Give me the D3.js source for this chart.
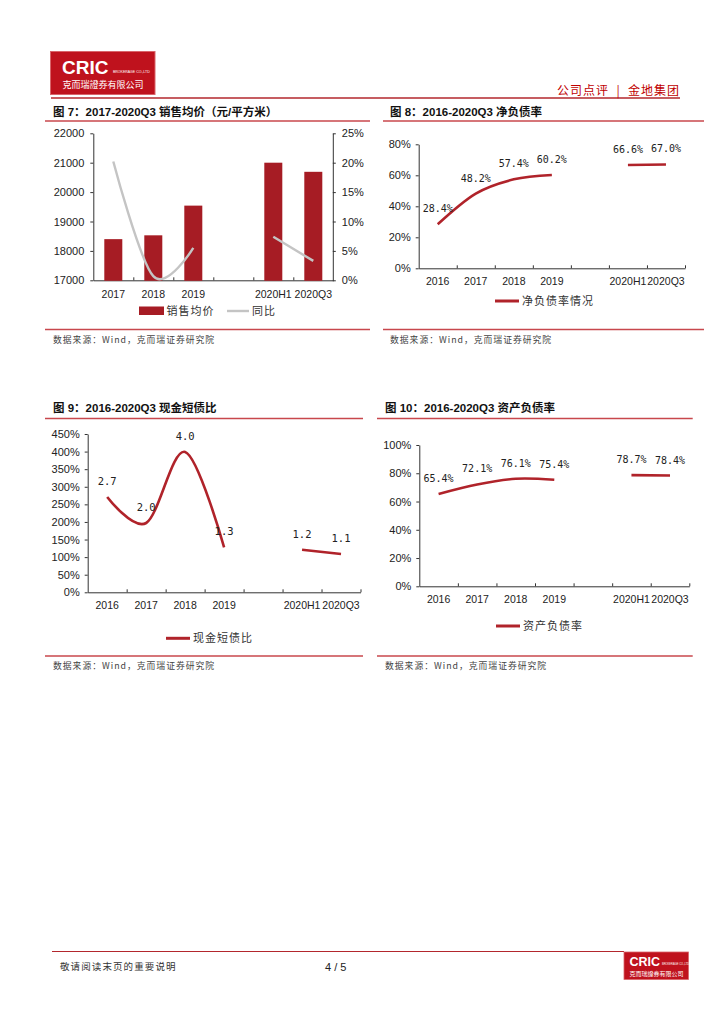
<!DOCTYPE html>
<html><head><meta charset="utf-8">
<script src="https://cdn.jsdelivr.net/npm/d3@7"></script>
<style>body{margin:0;background:#fff}svg{display:block}</style>
</head><body>
<svg id="c" width="724" height="1024"></svg>
<script>
// ---------- data ----------
const cats7 = ["2017","2018","2019","","2020H1","2020Q3"];
const price7 = [18400,18530,19540,null,21000,20690];
const yoy7 = [20.2,0.7,5.5,null,7.4,3.3];
const leftTicks7 = [17000,18000,19000,20000,21000,22000];
const rightTicks7 = [0,5,10,15,20,25];

const catsLine = ["2016","2017","2018","2019","","2020H1","2020Q3"];
const netDebt8 = [28.4,48.2,57.4,60.2,null,66.6,67.0];
const ticks8 = [0,20,40,60,80];
const cashRatio9 = [2.71,1.97,3.99,1.28,null,1.21,1.09];
const ticks9 = [0,50,100,150,200,250,300,350,400,450];
const assetLiab10 = [65.4,72.1,76.1,75.4,null,78.7,78.4];
const ticks10 = [0,20,40,60,80,100];

const titles = ["图 7：2017-2020Q3 销售均价（元/平方米）","图 8：2016-2020Q3 净负债率","图 9：2016-2020Q3 现金短债比","图 10：2016-2020Q3 资产负债率"];
const sourceText = "数据来源：Wind，克而瑞证券研究院";

// ---------- styles ----------
const RED = "#b0232a", BAR = "#a61c24", GRAY = "#c4c4c4", RULE = "#c8474d";
const SANS = "'Liberation Sans','Noto Sans CJK SC',sans-serif";
const CJK = "'Noto Sans CJK SC','Liberation Sans',sans-serif";
const MONO = "'DejaVu Sans Mono','Liberation Mono',monospace";

const svg = d3.select("#c");
svg.append("rect").attr("width",724).attr("height",1024).attr("fill","#fff");

// ---------- header ----------
svg.append("rect").attr("x",50.5).attr("y",51.5).attr("width",104.5).attr("height",43)
  .attr("fill","#bf121d").attr("stroke","#d9656a").attr("stroke-width",1);
svg.append("text").attr("x",62).attr("y",74).text("CRIC")
  .attr("font-family",SANS).attr("font-weight","bold").attr("font-size",19).attr("fill","#fff");
svg.append("text").attr("x",113).attr("y",73).text("BROKERAGE CO.,LTD")
  .attr("font-family",SANS).attr("font-size",3.5).attr("fill","#fff");
svg.append("text").attr("x",62.5).attr("y",88).text("克而瑞證券有限公司")
  .attr("font-family",CJK).attr("font-size",9).attr("fill","#fff");
svg.append("line").attr("x1",51).attr("x2",680).attr("y1",98).attr("y2",98)
  .attr("stroke","#b3272d").attr("stroke-width",1.4);
svg.append("text").attr("x",680).attr("y",95).attr("text-anchor","end")
  .attr("xml:space","preserve").style("white-space","pre").text("公司点评  |  金地集团")
  .attr("font-family",CJK).attr("font-size",12).attr("letter-spacing",1).attr("fill","#c00000");

// ---------- footer ----------
svg.append("line").attr("x1",52).attr("x2",624).attr("y1",951.5).attr("y2",951.5)
  .attr("stroke","#b3272d").attr("stroke-width",1.2);
svg.append("rect").attr("x",624).attr("y",952).attr("width",64.5).attr("height",27.5)
  .attr("fill","#bf121d").attr("stroke","#d9656a").attr("stroke-width",0.8);
svg.append("text").attr("x",629.5).attr("y",965.5).text("CRIC")
  .attr("font-family",SANS).attr("font-weight","bold").attr("font-size",12.5).attr("fill","#fff");
svg.append("text").attr("x",662).attr("y",965).text("BROKERAGE CO.,LTD")
  .attr("font-family",SANS).attr("font-size",2.6).attr("fill","#fff");
svg.append("text").attr("x",629.5).attr("y",975.5).text("克而瑞證券有限公司")
  .attr("font-family",CJK).attr("font-size",6).attr("fill","#fff");
svg.append("text").attr("x",60).attr("y",970).text("敬请阅读末页的重要说明")
  .attr("font-family",CJK).attr("font-size",9.5).attr("letter-spacing",1.1).attr("fill","#333");
svg.append("text").attr("x",325).attr("y",971).text("4 / 5")
  .attr("font-family",SANS).attr("font-size",11).attr("fill","#222");

// ---------- frame helpers ----------
function frame(o){
  svg.append("text").attr("x",o.tx).attr("y",o.ty).text(o.title)
    .attr("font-family",SANS).attr("font-weight","bold").attr("font-size",11.5).attr("fill","#111");
  svg.append("line").attr("x1",o.rx0).attr("x2",o.rx1).attr("y1",o.ry0).attr("y2",o.ry0)
    .attr("stroke",RULE).attr("stroke-width",1.3);
  svg.append("line").attr("x1",o.rx0).attr("x2",o.rx1).attr("y1",o.ry1).attr("y2",o.ry1)
    .attr("stroke",RULE).attr("stroke-width",1.3);
  svg.append("text").attr("x",o.tx).attr("y",o.ry1+13).text(sourceText)
    .attr("font-family",CJK).attr("font-size",8.8).attr("letter-spacing",1).attr("fill","#444");
}
function styleAxis(sel){
  sel.selectAll("path,line").attr("stroke","#333").attr("stroke-width",1);
  sel.selectAll("text").attr("font-family",SANS).attr("font-size",11).attr("fill","#222");
  sel.attr("font-family",null).attr("font-size",null);
}

// ---------- line chart ----------
function lineChart(o){
  const n = o.cats.length;
  const x = d3.scalePoint().domain(d3.range(n)).range([o.x0,o.x1]).padding(0.5);
  const xb = d3.scaleLinear().domain([0,n]).range([o.x0,o.x1]);
  const y = d3.scaleLinear().domain([0,o.yMax]).range([o.yb,o.yt]);
  const g = svg.append("g");
  g.append("g").attr("transform",`translate(${o.x0},0)`)
    .call(d3.axisLeft(y).tickValues(o.ticks).tickFormat(d=>d+"%").tickSizeInner(3).tickSizeOuter(0).tickPadding(5))
    .call(styleAxis);
  g.append("g").attr("transform",`translate(0,${o.yb})`)
    .call(d3.axisBottom(xb).tickValues(d3.range(1,n+1)).tickFormat("").tickSizeInner(-3).tickSizeOuter(0))
    .call(styleAxis);
  g.selectAll("text.xl").data(o.cats).join("text").attr("class","xl")
    .attr("x",(d,i)=>x(i)).attr("y",o.yb+17).attr("text-anchor","middle").text(d=>d)
    .attr("font-family",SANS).attr("font-size",10.5).attr("fill","#222");
  const line = d3.line().defined(d=>d!=null).x((d,i)=>x(i)).y(d=>y(d*o.k)).curve(d3.curveCatmullRom.alpha(0));
  g.append("path").attr("d",line(o.values)).attr("fill","none").attr("stroke",RED)
    .attr("stroke-width",2.6).attr("stroke-linecap","butt");
  g.selectAll("text.vl").data(o.values.map((v,i)=>({v,i})).filter(d=>d.v!=null)).join("text").attr("class","vl")
    .attr("x",d=>x(d.i)).attr("y",d=>y(d.v*o.k)-12).attr("text-anchor","middle").text(d=>o.labelFmt(d.v))
    .attr("font-family",MONO).attr("font-size",o.lfs).attr("fill","#222");
  g.append("line").attr("x1",o.lx).attr("x2",o.lx+24).attr("y1",o.ly).attr("y2",o.ly)
    .attr("stroke",RED).attr("stroke-width",3);
  g.append("text").attr("x",o.lx+27).attr("y",o.ly+4).text(o.legend)
    .attr("font-family",CJK).attr("font-size",11).attr("letter-spacing",1).attr("fill","#333");
}

// ---------- chart 7 ----------
frame({title:titles[0],tx:53,ty:115.5,rx0:45,rx1:370,ry0:121,ry1:329.5});
(function(){
  const x0=93.3,x1=333.3,yt=133.3,yb=280.3;
  const n=cats7.length;
  const xb=d3.scaleBand().domain(d3.range(n)).range([x0,x1]).paddingInner(0.55).paddingOuter(0.275);
  const xc=d3.scalePoint().domain(d3.range(n)).range([x0,x1]).padding(0.5);
  const xl=d3.scaleLinear().domain([0,n]).range([x0,x1]);
  const yL=d3.scaleLinear().domain([17000,22000]).range([yb,yt]);
  const yR=d3.scaleLinear().domain([0,25]).range([yb,yt]);
  const g=svg.append("g");
  g.append("g").attr("transform",`translate(0,${yb})`)
    .call(d3.axisBottom(xl).tickValues(d3.range(1,n)).tickFormat("").tickSizeInner(-3).tickSizeOuter(0))
    .call(styleAxis);
  g.append("g").attr("transform",`translate(${x0},0)`)
    .call(d3.axisLeft(yL).tickValues(leftTicks7).tickFormat(d3.format("d")).tickSizeInner(3).tickSizeOuter(0).tickPadding(6))
    .call(styleAxis);
  g.append("g").attr("transform",`translate(${x1-0.5},0)`)
    .call(d3.axisRight(yR).tickValues(rightTicks7).tickFormat(d=>d+"%").tickSizeInner(3).tickSizeOuter(0).tickPadding(6))
    .call(styleAxis);
  g.selectAll("rect.bar").data(price7.map((v,i)=>({v,i})).filter(d=>d.v!=null)).join("rect").attr("class","bar")
    .attr("x",d=>xb(d.i)).attr("width",xb.bandwidth()).attr("y",d=>yL(d.v)).attr("height",d=>yb-yL(d.v)+0.5)
    .attr("fill",BAR);
  const line=d3.line().defined(d=>d!=null).x((d,i)=>xc(i)).y(d=>yR(d)).curve(d3.curveCatmullRom.alpha(0));
  g.append("path").attr("d",line(yoy7)).attr("fill","none").attr("stroke",GRAY).attr("stroke-width",2.4);
  g.selectAll("text.xl").data(cats7).join("text").attr("class","xl")
    .attr("x",(d,i)=>xc(i)).attr("y",297.5).attr("text-anchor","middle").text(d=>d)
    .attr("font-family",SANS).attr("font-size",10.5).attr("fill","#222");
  // legend
  g.append("rect").attr("x",139).attr("y",306.5).attr("width",25).attr("height",8.5).attr("fill",BAR);
  g.append("text").attr("x",166.5).attr("y",315).text("销售均价")
    .attr("font-family",CJK).attr("font-size",11).attr("letter-spacing",1).attr("fill","#333");
  g.append("line").attr("x1",227).attr("x2",249).attr("y1",311).attr("y2",311).attr("stroke",GRAY).attr("stroke-width",2.4);
  g.append("text").attr("x",252).attr("y",315).text("同比")
    .attr("font-family",CJK).attr("font-size",11).attr("letter-spacing",1).attr("fill","#333");
})();

// ---------- chart 8 ----------
frame({title:titles[1],tx:390,ty:115.5,rx0:383,rx1:704,ry0:121,ry1:329.5});
lineChart({cats:catsLine,values:netDebt8,k:1,x0:418.7,x1:685,yt:144.3,yb:268.3,yMax:80,ticks:ticks8,
  labelFmt:v=>v.toFixed(1)+"%",lfs:10,lx:495,ly:301,legend:"净负债率情况"});

// ---------- chart 9 ----------
frame({title:titles[2],tx:53,ty:412,rx0:45,rx1:363,ry0:418.5,ry1:656});
lineChart({cats:catsLine,values:cashRatio9,k:100,x0:87.7,x1:360.5,yt:434,yb:592.3,yMax:450,ticks:ticks9,
  labelFmt:v=>v.toFixed(1),lfs:10.5,lx:166,ly:638.3,legend:"现金短债比"});

// ---------- chart 10 ----------
frame({title:titles[3],tx:385,ty:412,rx0:377,rx1:692.7,ry0:418.5,ry1:656});
lineChart({cats:catsLine,values:assetLiab10,k:1,x0:419.3,x1:689.3,yt:445,yb:586.3,yMax:100,ticks:ticks10,
  labelFmt:v=>v.toFixed(1)+"%",lfs:10,lx:496,ly:626,legend:"资产负债率"});
</script>
</body></html>
